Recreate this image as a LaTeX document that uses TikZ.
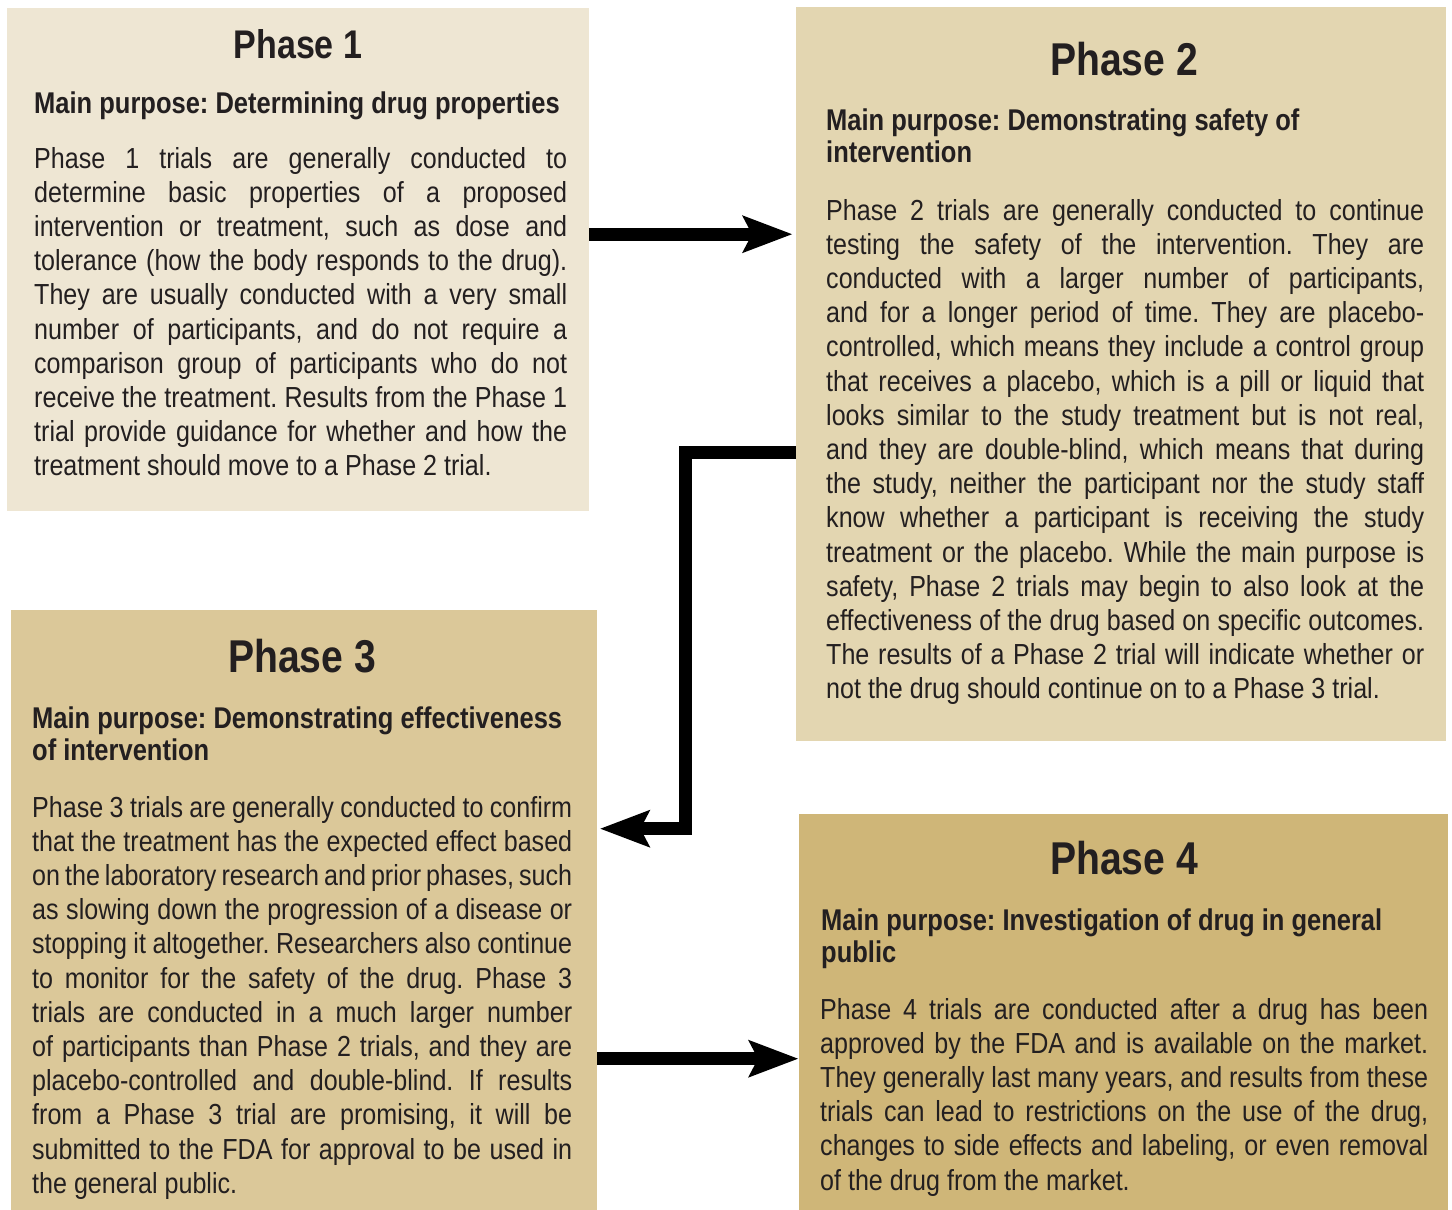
\documentclass[tikz,border=0pt]{standalone}
\usepackage{fontspec}
\usetikzlibrary{arrows.meta}
\newfontfamily\bodyfont{Liberation Sans}[FakeStretch=0.865]
\newfontfamily\headfont{Liberation Sans}[FakeStretch=0.85]
\definecolor{cone}{HTML}{EEE6D3}
\definecolor{ctwo}{HTML}{E3D6B1}
\definecolor{cthree}{HTML}{DBC899}
\definecolor{cfour}{HTML}{CFB678}
\definecolor{ink}{HTML}{231F20}
\hbadness=10000
\hfuzz=40pt
\frenchspacing
\newcommand\jl[1]{\hbox to \linewidth{#1}}
\newcommand\el[1]{\hbox{#1}}
\newcommand\bodysize{\bodyfont\fontsize{29pt}{34.2pt}\selectfont\frenchspacing}
\newcommand\headsize{\headfont\bfseries\fontsize{30pt}{32pt}\selectfont\frenchspacing}
\begin{document}
\begin{tikzpicture}[x=1pt,y=-1pt,
  panel/.style={draw=none, inner sep=0pt, anchor=north west},
  ttl/.style={anchor=base, inner sep=0pt, text=ink},
  hd/.style={anchor=base west, inner sep=0pt, text=ink},
  bd/.style={anchor=base west, inner sep=0pt, text=ink},
  flow/.style={draw=black, line width=13pt, line join=miter,
    -{Stealth[length=50pt,width=38pt,inset=10pt,line width=0pt]}}]
\useasboundingbox (0,0) rectangle (1452,1210);
\fill[white] (0,0) rectangle (1452,1210);
% panels
\node[panel, fill=cone, minimum width=582pt, minimum height=503pt] (p1) at (7,8) {};
\node[panel, fill=ctwo, minimum width=650pt, minimum height=734pt] (p2) at (796,7) {};
\node[panel, fill=cthree, minimum width=586pt, minimum height=600pt] (p3) at (11,610) {};
\node[panel, fill=cfour, minimum width=649pt, minimum height=396pt] (p4) at (799,814) {};
% Phase 1
\node[ttl] (t1) at (298,58) {\headfont\bfseries\fontsize{40pt}{44pt}\selectfont Phase 1};
\node[hd] (h1) at (34,113) {\headsize Main purpose: Determining drug properties};
\node[bd] (b1) at (34,168) {\parbox[t]{533pt}{\bodysize
\jl{Phase 1 trials are generally conducted to}
\jl{determine basic properties of a proposed}
\jl{intervention or treatment, such as dose and}
\jl{tolerance (how the body responds to the drug).}
\jl{They are usually conducted with a very small}
\jl{number of participants, and do not require a}
\jl{comparison group of participants who do not}
\jl{receive the treatment. Results from the Phase 1}
\jl{trial provide guidance for whether and how the}
\el{treatment should move to a Phase 2 trial.}}};
% Phase 2
\node[ttl] (t2) at (1124,75) {\headfont\bfseries\fontsize{46pt}{50pt}\selectfont Phase 2};
\node[hd] (h2) at (826,130) {\parbox[t]{600pt}{\headsize
\el{Main purpose: Demonstrating safety of}
\el{intervention}}};
\node[bd] (b2) at (826,220) {\parbox[t]{598pt}{\bodysize
\jl{Phase 2 trials are generally conducted to continue}
\jl{testing the safety of the intervention. They are}
\jl{conducted with a larger number of participants,}
\jl{and for a longer period of time. They are placebo-}
\jl{controlled, which means they include a control group}
\jl{that receives a placebo, which is a pill or liquid that}
\jl{looks similar to the study treatment but is not real,}
\jl{and they are double-blind, which means that during}
\jl{the study, neither the participant nor the study staff}
\jl{know whether a participant is receiving the study}
\jl{treatment or the placebo. While the main purpose is}
\jl{safety, Phase 2 trials may begin to also look at the}
\jl{effectiveness of the drug based on specific outcomes.}
\jl{The results of a Phase 2 trial will indicate whether or}
\el{not the drug should continue on to a Phase 3 trial.}}};
% Phase 3
\node[ttl] (t3) at (302,672) {\headfont\bfseries\fontsize{46pt}{50pt}\selectfont Phase 3};
\node[hd] (h3) at (32,728) {\parbox[t]{560pt}{\headsize
\el{Main purpose: Demonstrating effectiveness}
\el{of intervention}}};
\node[bd] (b3) at (32,817) {\parbox[t]{540pt}{\bodysize
\jl{Phase 3 trials are generally conducted to confirm}
\jl{that the treatment has the expected effect based}
\jl{on the laboratory research and prior phases, such}
\jl{as slowing down the progression of a disease or}
\jl{stopping it altogether. Researchers also continue}
\jl{to monitor for the safety of the drug. Phase 3}
\jl{trials are conducted in a much larger number}
\jl{of participants than Phase 2 trials, and they are}
\jl{placebo-controlled and double-blind. If results}
\jl{from a Phase 3 trial are promising, it will be}
\jl{submitted to the FDA for approval to be used in}
\el{the general public.}}};
% Phase 4
\node[ttl] (t4) at (1124,874) {\headfont\bfseries\fontsize{46pt}{50pt}\selectfont Phase 4};
\node[hd] (h4) at (821,930) {\parbox[t]{610pt}{\headsize
\el{Main purpose: Investigation of drug in general}
\el{public}}};
\node[bd] (b4) at (820,1019) {\parbox[t]{608pt}{\bodysize
\jl{Phase 4 trials are conducted after a drug has been}
\jl{approved by the FDA and is available on the market.}
\jl{They generally last many years, and results from these}
\jl{trials can lead to restrictions on the use of the drug,}
\jl{changes to side effects and labeling, or even removal}
\el{of the drug from the market.}}};
% connectors
\draw[flow, shorten >=4pt] ([yshift=25.5pt]p1.east) -- ([yshift=25.5pt]p1.east -| p2.west);
\draw[flow, shorten >=3pt] ([yshift=-78.5pt]p2.west) -- ++(-110.5,0) |- ([yshift=81.5pt]p3.east);
\draw[flow, shorten >=1pt] ([yshift=-148.5pt]p3.east) -- ([yshift=-148.5pt]p3.east -| p4.west);
\end{tikzpicture}
\end{document}
